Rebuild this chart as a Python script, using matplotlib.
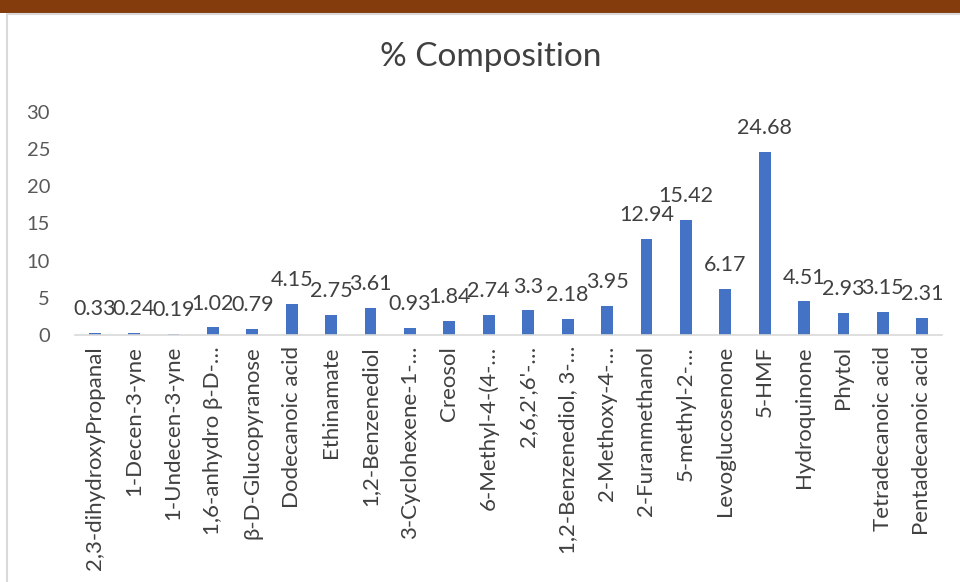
import matplotlib.pyplot as plt
from matplotlib.patches import Rectangle
import numpy as np

plt.rcParams['font.family'] = ['Lato', 'DejaVu Sans']

compounds = [
    "2,3-dihydroxyPropanal", "1-Decen-3-yne", "1-Undecen-3-yne", "1,6-anhydro β-D-…",
    "β-D-Glucopyranose", "Dodecanoic acid", "Ethinamate", "1,2-Benzenediol",
    "3-Cyclohexene-1-…", "Creosol", "6-Methyl-4-(4-…", "2,6,2',6'-…",
    "1,2-Benzenediol, 3-…", "2-Methoxy-4-…", "2-Furanmethanol", "5-methyl-2-…",
    "Levoglucosenone", "5-HMF", "Hydroquinone", "Phytol", "Tetradecanoic acid",
    "Pentadecanoic acid",
]
composition = [0.33, 0.24, 0.19, 1.02, 0.79, 4.15, 2.75, 3.61, 0.93, 1.84, 2.74,
               3.3, 2.18, 3.95, 12.94, 15.42, 6.17, 24.68, 4.51, 2.93, 3.15, 2.31]
value_labels = ["0.33", "0.24", "0.19", "1.02", "0.79", "4.15", "2.75", "3.61", "0.93",
                "1.84", "2.74", "3.3", "2.18", "3.95", "12.94", "15.42", "6.17",
                "24.68", "4.51", "2.93", "3.15", "2.31"]
yticks = [0, 5, 10, 15, 20, 25, 30]

fig = plt.figure(figsize=(9.6, 5.82), dpi=100)
fig.patch.set_facecolor("white")

# brown band on top and the chart frame (kept behind the axes)
fig.patches.append(Rectangle((0, 1 - 13 / 582), 1, 13 / 582, transform=fig.transFigure,
                             facecolor="#843C0C", edgecolor="none", zorder=-5))
fig.patches.append(Rectangle((6.5 / 960, -0.05), 1.2, 1 - 14 / 582 + 0.05,
                             transform=fig.transFigure, facecolor="white",
                             edgecolor="#D9D9D9", linewidth=1.5, zorder=-5))

ax = fig.add_axes([75 / 960, 1 - 335 / 582, 867 / 960, 223 / 582])
ax.patch.set_alpha(0)
x = np.arange(len(compounds))
bars = ax.bar(x, composition, width=0.3, color="#4472C4")

for xi, v, lab in zip(x, composition, value_labels):
    ax.annotate(lab, (xi, v), xytext=(0, 10), textcoords="offset points",
                ha="center", va="bottom", fontsize=15.5, color="#404040")

ax.set_xlim(-0.5, len(compounds) - 0.5)
ax.set_ylim(0, 30)
ax.set_yticks(yticks)
ax.set_xticks(x)
ax.set_xticklabels(compounds, rotation=90, fontsize=16, color="#404040")
ax.tick_params(axis="y", length=0, labelsize=14.5, labelcolor="#595959", pad=18)
ax.tick_params(axis="x", length=0, pad=8)
for s in ["top", "right", "left"]:
    ax.spines[s].set_visible(False)
ax.spines["bottom"].set_color("#D9D9D9")
ax.spines["bottom"].set_linewidth(1.2)

fig.text(491 / 960, 1 - 57 / 582, "% Composition", ha="center", va="center",
         fontsize=24, color="#404040")

fig.savefig("out.png", dpi=100)
